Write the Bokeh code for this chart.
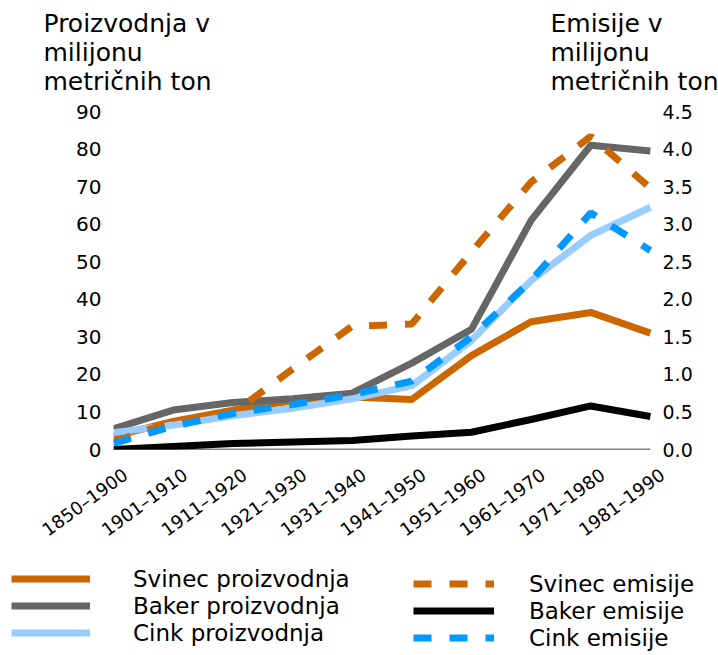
from bokeh.plotting import figure
from bokeh.layouts import column
from bokeh.models import (Range1d, LinearAxis, FixedTicker, Label, Legend,
                          LegendItem, PrintfTickFormatter)
from bokeh.embed import file_html
from bokeh.resources import INLINE

categories = ["1850–1900", "1901–1910", "1911–1920", "1921–1930", "1931–1940",
              "1941–1950", "1951–1960", "1961–1970", "1971–1980", "1981–1990"]

# production (left axis, million metric tons)
svinec_proizvodnja = [3.5, 7.5, 10.5, 13, 14, 13.3, 25, 34, 36.5, 31]
baker_proizvodnja = [5.5, 10.5, 12.5, 13.5, 15, 23, 32, 61, 81, 79.5]
cink_proizvodnja = [4.5, 6.5, 9, 11, 13.5, 17, 29, 45, 57, 64.5]

# emissions (right axis, million metric tons)
svinec_emisije = [0.1, 0.38, 0.48, 1.07, 1.64, 1.67, 2.63, 3.56, 4.17, 3.48]
baker_emisije = [0.0, 0.04, 0.08, 0.1, 0.12, 0.18, 0.23, 0.4, 0.58, 0.44]
cink_emisije = [0.08, 0.31, 0.48, 0.6, 0.73, 0.91, 1.5, 2.25, 3.15, 2.65]

left_ticks = [0, 10, 20, 30, 40, 50, 60, 70, 80, 90]
right_ticks = [0, 0.5, 1.0, 1.5, 2.0, 2.5, 3.0, 3.5, 4.0, 4.5]

left_title = ["Proizvodnja v", "milijonu", "metričnih ton"]
right_title = ["Emisije v", "milijonu", "metričnih ton"]

FONT = "DejaVu Sans"
W = 718
x = list(range(len(categories)))
LABEL_SHIFT = 0.2          # rotated category labels end a little right of each point

ORANGE, GRAY, LIGHTBLUE, BLUE, BLACK = "#CC6600", "#666666", "#99CCFF", "#0099FF", "#000000"
LW = 7
DASH = "18 18"


def strip(height, xr, yr):
    f = figure(width=W, height=height, output_backend="svg", toolbar_location=None,
               x_range=xr, y_range=yr, x_axis_type=None, y_axis_type=None,
               min_border=0, min_border_left=0, min_border_right=0,
               min_border_top=0, min_border_bottom=0, frame_align=False)
    f.outline_line_color = None
    f.grid.visible = False
    return f


# ---------------- title strip ----------------
TH = 100
tfig = strip(TH, Range1d(0, W), Range1d(0, TH))
for i, t in enumerate(left_title):
    tfig.add_layout(Label(x=43, y=77 - 29 * i, text=t, text_font=FONT,
                          text_font_size="25px", text_color="black",
                          text_baseline="alphabetic"))
for i, t in enumerate(right_title):
    tfig.add_layout(Label(x=550, y=77 - 29 * i, text=t, text_font=FONT,
                          text_font_size="25px", text_color="black",
                          text_baseline="alphabetic"))

# ---------------- main chart ----------------
p = figure(width=W, height=451, output_backend="svg", toolbar_location=None,
           x_range=Range1d(0, len(categories) - 1 + LABEL_SHIFT + 0.02),
           y_range=Range1d(0, 90), x_axis_type=None,
           min_border_left=113, min_border_right=55, min_border_top=11,
           min_border_bottom=95, frame_align=False)
p.outline_line_color = None
p.grid.visible = False
p.extra_y_ranges = {"emis": Range1d(0, 4.5)}

label_pos = [i + LABEL_SHIFT for i in x]
xa = LinearAxis(ticker=FixedTicker(ticks=label_pos))
xa.major_label_overrides = {t: c for t, c in zip(label_pos, categories)}
xa.major_label_orientation = 0.63
xa.major_tick_line_color = None
xa.minor_tick_line_color = None
xa.axis_line_color = None
xa.major_label_text_font = FONT
xa.major_label_text_font_size = "18px"
xa.major_label_text_color = "black"
xa.major_label_standoff = 17
p.add_layout(xa, "below")

ya = p.yaxis[0]
ya.ticker = FixedTicker(ticks=left_ticks)
ya.axis_line_color = None
ya.major_tick_line_color = None
ya.minor_tick_line_color = None
ya.major_label_text_font = FONT
ya.major_label_text_font_size = "20px"
ya.major_label_text_color = "black"
ya.major_label_standoff = 6

ra = LinearAxis(y_range_name="emis", ticker=FixedTicker(ticks=right_ticks),
                formatter=PrintfTickFormatter(format="%.1f"))
ra.axis_line_color = None
ra.major_tick_line_color = None
ra.minor_tick_line_color = None
ra.major_label_text_font = FONT
ra.major_label_text_font_size = "19px"
ra.major_label_text_color = "black"
ra.major_label_standoff = -7
p.add_layout(ra, "right")

# category axis baseline, spanning the categories
p.segment(x0=[x[0]], y0=[0], x1=[x[-1]], y1=[0], line_color="black", line_width=1.5)

p.line(x, svinec_proizvodnja, line_color=ORANGE, line_width=LW, line_join="round")
p.line(x, baker_proizvodnja, line_color=GRAY, line_width=LW, line_join="round")
p.line(x, cink_proizvodnja, line_color=LIGHTBLUE, line_width=LW, line_join="round")
p.line(x, svinec_emisije, y_range_name="emis", line_color=ORANGE,
       line_width=LW, line_dash=DASH)
p.line(x, baker_emisije, y_range_name="emis", line_color=BLACK,
       line_width=LW, line_join="round")
p.line(x, cink_emisije, y_range_name="emis", line_color=BLUE,
       line_width=LW, line_dash=DASH)

# ---------------- legend strip ----------------
LH = 104
lfig = strip(LH, Range1d(0, 1), Range1d(0, 1))
# off-range stand-ins so the legend can show each series' line style
sx, sy = [5, 6], [5, 5]
g1 = lfig.line(sx, sy, line_color=ORANGE, line_width=LW)
g2 = lfig.line(sx, sy, line_color=GRAY, line_width=LW)
g3 = lfig.line(sx, sy, line_color=LIGHTBLUE, line_width=LW)
g4 = lfig.line(sx, sy, line_color=ORANGE, line_width=LW, line_dash=DASH)
g5 = lfig.line(sx, sy, line_color=BLACK, line_width=LW)
g6 = lfig.line(sx, sy, line_color=BLUE, line_width=LW, line_dash=DASH)


def make_legend(items, loc, gw, standoff, rowh):
    return Legend(items=items, location=loc, orientation="vertical",
                  glyph_width=gw, glyph_height=rowh, label_height=rowh,
                  label_standoff=standoff, spacing=0, padding=0, margin=0,
                  border_line_color=None, background_fill_alpha=0,
                  label_text_font=FONT, label_text_font_size="23px",
                  label_text_color="black")


lfig.add_layout(make_legend([LegendItem(label="Svinec proizvodnja", renderers=[g1]),
                             LegendItem(label="Baker proizvodnja", renderers=[g2]),
                             LegendItem(label="Cink proizvodnja", renderers=[g3])],
                            (11, 9), 79, 43, 27))
lfig.add_layout(make_legend([LegendItem(label="Svinec emisije", renderers=[g4]),
                             LegendItem(label="Baker emisije", renderers=[g5]),
                             LegendItem(label="Cink emisije", renderers=[g6])],
                            (413, 4), 81, 35, 27))

layout = column(tfig, p, lfig, spacing=0)
open("out.html", "w").write(file_html(layout, INLINE))
